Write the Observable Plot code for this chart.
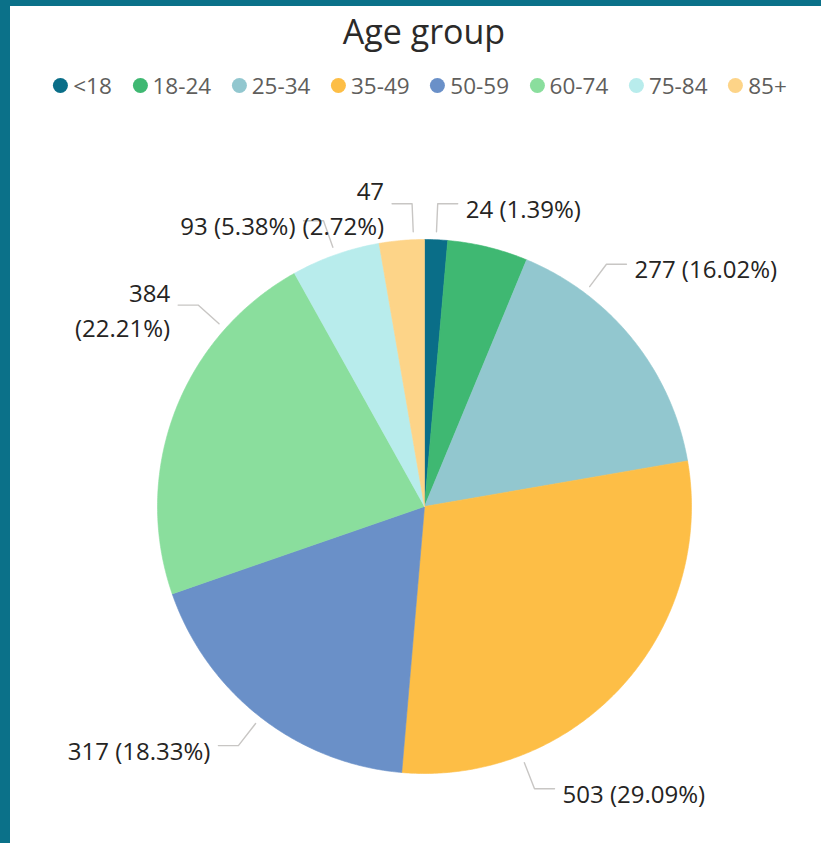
<!DOCTYPE html>
<html>
<head>
<meta charset="utf-8">
<script src="https://cdn.jsdelivr.net/npm/d3@7"></script>
<script src="https://cdn.jsdelivr.net/npm/@observablehq/plot@0.6"></script>
<style>
  html, body { margin: 0; padding: 0; background: #ffffff; }
  body { width: 821px; height: 843px; position: relative; overflow: hidden; font-family: "Open Sans", "Noto Sans", sans-serif; }
  #frameTop { position: absolute; left: 0; top: 0; width: 821px; height: 6px; background: #0B7189; z-index: 3; }
  #frameLeft { position: absolute; left: 0; top: 0; width: 10px; height: 843px; background: #0B7189; z-index: 3; }
  #title { position: absolute; top: 8px; left: 424px; transform: translateX(-50%); white-space: nowrap;
           font-size: 34px; color: #2B2A29; z-index: 2; line-height: normal; }
  #legend { position: absolute; top: 70px; left: 420px; transform: translateX(-50%); white-space: nowrap;
            display: flex; align-items: center; font-size: 22.5px; color: #605E5C; z-index: 2; }
  .item { display: flex; align-items: center; margin: 0 10.3px; }
  .dot { width: 15px; height: 15px; border-radius: 50%; margin-right: 5px; }
  #chart { position: absolute; left: 0; top: 0; z-index: 1; }
</style>
</head>
<body>
<div id="frameTop"></div>
<div id="frameLeft"></div>
<div id="title">Age group</div>
<div id="legend"></div>
<div id="chart"></div>
<script>
// ---- data ----
const groups = ["<18", "18-24", "25-34", "35-49", "50-59", "60-74", "75-84", "85+"];
const counts = [24, 84, 277, 503, 317, 384, 93, 47];
const colors = ["#0A6E88", "#3FB872", "#92C7CF", "#FDBE46", "#6A90C8", "#8ADE9D", "#B8ECEC", "#FDD488"];

// ---- label layout (Power BI style outside labels) ----
const hiddenLabels = ["18-24"];          // label suppressed (collision) in the original
const wrappedLabels = ["60-74", "85+"];  // labels broken onto two lines
const labelFrac = [0.5, 0.5, 0.25, 0.75, 0.5, 0.76, 0.5, 0.76]; // leader anchor within slice

const W = 821, H = 843;
const cx = 424, cy = 506, R = 267;
const total = d3.sum(counts);
const deg = Math.PI / 180;

// slice polygons
const polys = [];
let cum = 0;
const slices = groups.map((g, i) => {
  const a0 = cum / total * 360;
  cum += counts[i];
  const a1 = cum / total * 360;
  return {group: g, value: counts[i], a0, a1, i};
});
for (const s of slices) {
  polys.push({group: s.group, x: 0, y: 0});
  const n = Math.max(2, Math.ceil((s.a1 - s.a0) / 0.5));
  for (let k = 0; k <= n; k++) {
    const a = (s.a0 + (s.a1 - s.a0) * k / n) * deg;
    polys.push({group: s.group, x: Math.sin(a), y: Math.cos(a)});
  }
  polys.push({group: s.group, x: 0, y: 0});
}

// leaders and labels
const r1 = 1 + 8 / R, r2 = 1 + 36 / R, hseg = 20 / R;
const leaders = [], labels = [];
for (const s of slices) {
  if (hiddenLabels.includes(s.group)) continue;
  const a = (s.a0 + (s.a1 - s.a0) * labelFrac[s.i]) * deg;
  const right = Math.sin(a) >= 0;
  const ex = r2 * Math.sin(a), ey = r2 * Math.cos(a);
  const hx = ex + (right ? hseg : -hseg);
  leaders.push({group: s.group, x: r1 * Math.sin(a), y: r1 * Math.cos(a)});
  leaders.push({group: s.group, x: ex, y: ey});
  leaders.push({group: s.group, x: hx, y: ey});
  const pct = (s.value / total * 100).toFixed(2);
  const sep = wrappedLabels.includes(s.group) ? "\n" : " ";
  labels.push({group: s.group, x: hx, y: ey, right, text: `${s.value}${sep}(${pct}%)`});
}

const textStyle = {fontSize: 24, fill: "#252423", fontFamily: "Open Sans, Noto Sans, sans-serif", dy: 3, lineHeight: 1.46};

const plot = Plot.plot({
  width: W, height: H,
  marginLeft: cx - R, marginRight: W - (cx + R),
  marginTop: cy - R, marginBottom: H - (cy + R),
  x: {domain: [-1, 1], axis: null},
  y: {domain: [-1, 1], axis: null},
  color: {domain: groups, range: colors},
  style: {background: "transparent", overflow: "visible"},
  marks: [
    Plot.line(polys, {x: "x", y: "y", z: "group", fill: "group", stroke: "group", strokeWidth: 0.6, curve: "linear"}),
    Plot.line(leaders, {x: "x", y: "y", z: "group", stroke: "#C8C6C4", strokeWidth: 1.4, curve: "linear"}),
    Plot.text(labels.filter(d => d.right), {x: "x", y: "y", text: "text", textAnchor: "start", ...textStyle, dx: 8}),
    Plot.text(labels.filter(d => !d.right), {x: "x", y: "y", text: "text", textAnchor: "end", ...textStyle, dx: -8})
  ]
});
document.getElementById("chart").appendChild(plot);

// legend
const leg = document.getElementById("legend");
groups.forEach((g, i) => {
  const item = document.createElement("div");
  item.className = "item";
  const dot = document.createElement("span");
  dot.className = "dot";
  dot.style.background = colors[i];
  const lab = document.createElement("span");
  lab.textContent = g;
  item.appendChild(dot);
  item.appendChild(lab);
  leg.appendChild(item);
});
</script>
</body>
</html>
